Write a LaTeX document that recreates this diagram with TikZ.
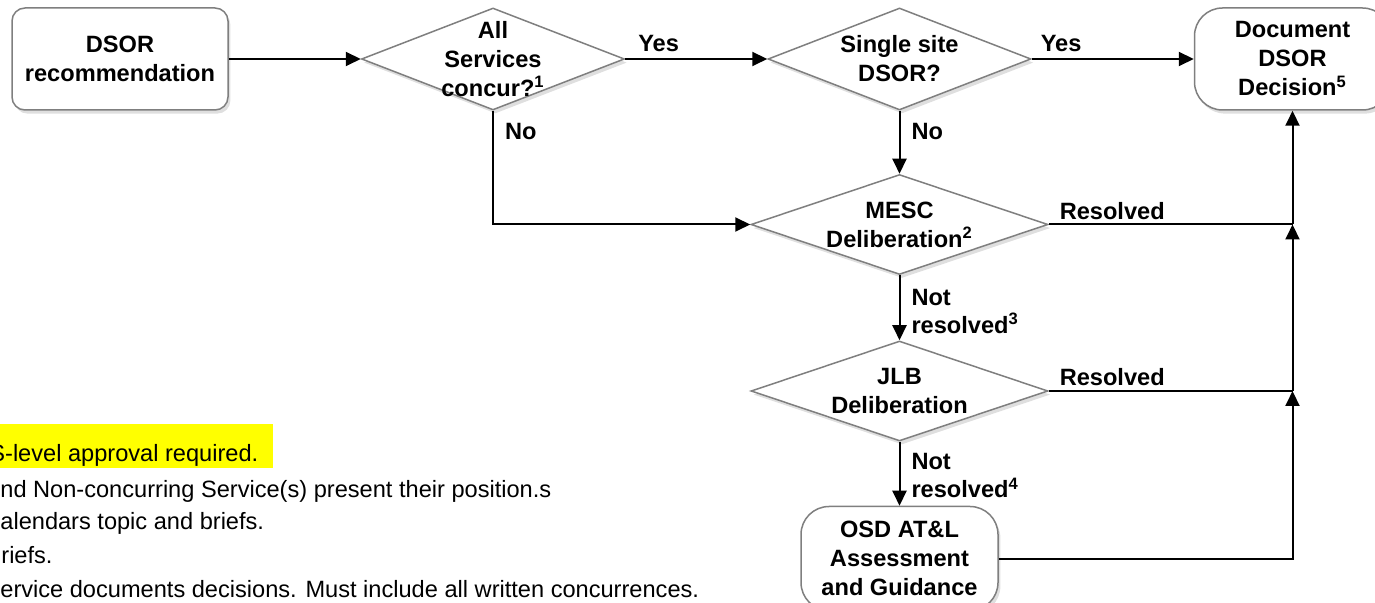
\documentclass[tikz,border=0pt]{standalone}
\usepackage{fontspec}
\setmainfont{Liberation Sans}
\usepackage{tikz}
\usetikzlibrary{
  arrows.meta,
  positioning,
  shapes.geometric,
  shadows
}
\definecolor{edgegray}{HTML}{7F7F7F}
\definecolor{hlyellow}{HTML}{FFFF00}
\newcommand{\fnote}[1]{\textsuperscript{#1}}

\begin{document}
\begin{tikzpicture}[
  x=0.5pt, y=-0.5pt,
  boxshadow/.style={drop shadow={shadow xshift=1.2pt, shadow yshift=-1.8pt, opacity=0.25}},
  txt/.style={font=\fontsize{11.8}{14.5}\selectfont\bfseries, align=center, inner sep=0pt},
  startbox/.style={
    draw=edgegray, line width=0.75pt, fill=white, rounded corners=6.5pt,
    minimum width=108pt, minimum height=51pt, boxshadow, txt
  },
  endbox/.style={
    draw=edgegray, line width=0.75pt, fill=white, rounded corners=14pt,
    minimum width=98pt, minimum height=51pt, boxshadow, txt
  },
  decide/.style={diamond, draw=edgegray, line width=0.75pt, fill=white, inner sep=0pt, boxshadow},
  flow/.style={-{Triangle[length=7.5pt, width=7pt]}, line width=1pt},
  merge/.style={line width=1pt},
  lbl/.style={font=\fontsize{11.8}{14}\selectfont\bfseries, inner sep=0pt, align=left},
  note/.style={font=\fontsize{11.8}{14}\selectfont, inner sep=0pt, anchor=base west}
]
  \useasboundingbox (0,0) rectangle (1375,603);

  % ── Top row ──
  \node[startbox] (dsor) at (120,59) {DSOR\\recommendation};
  \node[decide, minimum width=131.5pt, minimum height=51pt, right=66pt of dsor,
    label={[txt]center:{All\\Services\\concur?\fnote{1}}}] (q1) {};
  \node[decide, minimum width=131.5pt, minimum height=51pt, right=71pt of q1,
    label={[txt]center:{Single site\\DSOR?}}] (q2) {};
  \node[endbox, right=81pt of q2] (doc) {Document\\DSOR\\Decision\fnote{5}};

  % ── Deliberation chain ──
  \node[decide, minimum width=148.5pt, minimum height=50pt, below=31.5pt of q2,
    label={[txt]center:{MESC\\Deliberation\fnote{2}}}] (mesc) {};
  \node[decide, minimum width=148.5pt, minimum height=50pt, below=32.5pt of mesc,
    label={[txt]center:{JLB\\Deliberation}}] (jlb) {};
  \node[endbox, minimum width=98.5pt, minimum height=52pt, below=32pt of jlb]
    (osd) {OSD AT\&L\\Assessment\\and Guidance};

  \coordinate (j1) at (doc.south |- mesc.east);
  \coordinate (j2) at (doc.south |- jlb.east);

  % ── Connectors ──
  \draw[flow] (dsor) -- (q1);
  \draw[flow] (q1) -- (q2) node[lbl, pos=0, anchor=base west, xshift=6pt, yshift=3.5pt] {Yes};
  \draw[flow] (q2) -- (doc) node[lbl, pos=0, anchor=base west, xshift=4pt, yshift=3.5pt] {Yes};
  \draw[flow] (q1) |- (mesc) node[lbl, pos=0, anchor=north west, xshift=5.5pt, yshift=-6pt] {No};
  \draw[flow] (q2) -- (mesc) node[lbl, pos=0, anchor=north west, xshift=5.5pt, yshift=-6pt] {No};
  \draw[flow] (mesc) -- (jlb)
    node[lbl, pos=0, anchor=north west, xshift=5.5pt, yshift=-6.5pt] {Not\\resolved\fnote{3}};
  \draw[flow] (jlb) -- (osd)
    node[lbl, pos=0, anchor=north west, xshift=5.5pt, yshift=-5.5pt] {Not\\resolved\fnote{4}};

  % ── Resolved paths back to the decision ──
  \draw[merge] (mesc) -- (j1) node[lbl, pos=0, anchor=base west, xshift=5pt, yshift=2.5pt] {Resolved};
  \draw[merge] (jlb) -- (j2) node[lbl, pos=0, anchor=base west, xshift=5pt, yshift=2.5pt] {Resolved};
  \draw[flow] (osd) -| (j2);
  \draw[flow] (j2) -- (j1);
  \draw[flow] (j1) -- (doc);

  % ── Footnotes ──
  \fill[hlyellow] (0,424) rectangle (273,468);
  \node[note] (fn1) at (-11,462) {S-level approval required.};
  \node[note] (fn2) at (0,498) {nd Non-concurring Service(s) present their position.s};
  \node[note] (fn3) at (0,530) {alendars topic and briefs.};
  \node[note] (fn4) at (1,563) {riefs.};
  \node[note] (fn5) at (0,597) {ervice documents decisions. Must include all written concurrences.};

\end{tikzpicture}
\end{document}
